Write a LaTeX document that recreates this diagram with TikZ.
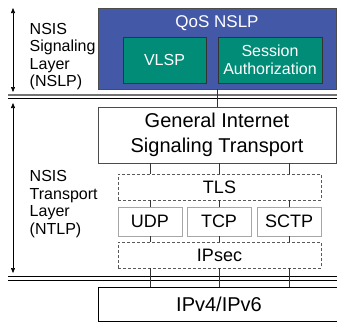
\documentclass[tikz,border=0pt]{standalone}
\usepackage{fontspec}
\setmainfont{Liberation Sans}
\usetikzlibrary{arrows.meta,shadows}
\definecolor{nslpblue}{RGB}{68,88,168}
\definecolor{nslpgreen}{RGB}{0,140,118}
\begin{document}
\begin{tikzpicture}[x=1pt,y=-1pt,line width=0.8pt]
\tikzstyle{box}=[draw, rectangle, inner sep=0pt, align=center]
\tikzstyle{shade}=[drop shadow={shadow xshift=1.2pt,shadow yshift=-1.2pt,fill=black!25,opacity=1}]
\tikzstyle{dbox}=[draw=black!65, dash pattern=on 3pt off 2pt, rectangle, inner sep=0pt, line width=0.7pt]
\tikzstyle{link}=[draw=black!80, line width=0.6pt]
\tikzstyle{span}=[{Triangle[width=4pt,length=5pt]}-{Triangle[width=4pt,length=5pt]}, line width=0.6pt]
\useasboundingbox (0,0) rectangle (337,322);

% layer labels
\node [align=left, anchor=west, font=\fontsize{16}{17.5}\selectfont] (nslplabel) at (26,56.5) {NSIS\\Signaling\\Layer\\(NSLP)};
\node [align=left, anchor=west, font=\fontsize{16}{17.5}\selectfont] (ntlplabel) at (26,204) {NSIS\\Transport\\Layer\\(NTLP)};
\coordinate (nslptop) at (13,8);
\coordinate (nslpbot) at (13,92);
\coordinate (ntlptop) at (13,103);
\coordinate (ntlpbot) at (13,273);
\draw [span] (nslptop) -- (nslpbot);
\draw [span] (ntlptop) -- (ntlpbot);

% signaling layer
\node [box, shade, draw=black!70, fill=nslpblue, minimum width=238pt, minimum height=81pt] (qos) at (217,48.5) {};
\node [text=white, font=\fontsize{17}{20}\selectfont] (qoslabel) at (217,23) {QoS NSLP};
\node [box, draw=black!80, fill=nslpgreen, text=white, minimum width=83pt, minimum height=46pt, font=\fontsize{16}{18}\selectfont] (vlsp) at (164.5,60) {VLSP};
\node [box, draw=black!80, fill=nslpgreen, text=white, minimum width=104pt, minimum height=46pt, font=\fontsize{16}{18}\selectfont] (auth) at (270,60) {Session\\Authorization};

% transport layer
\node [box, shade, draw=black!70, fill=white, minimum width=238pt, minimum height=56pt, font=\fontsize{20}{25}\selectfont] (gist) at (217,135) {General Internet\\Signaling Transport};
\node [dbox, minimum width=203pt, minimum height=26pt, font=\fontsize{18}{20}\selectfont] (tls) at (219.5,187) {TLS};
\node [box, shade, draw=black!35, fill=white, minimum width=64pt, minimum height=29pt, font=\fontsize{18}{20}\selectfont] (udp) at (150,221.5) {UDP};
\node [box, shade, draw=black!35, fill=white, minimum width=64pt, minimum height=29pt, font=\fontsize{18}{20}\selectfont] (tcp) at (219,221.5) {TCP};
\node [box, shade, draw=black!35, fill=white, minimum width=64pt, minimum height=29pt, font=\fontsize{18}{20}\selectfont] (sctp) at (289,221.5) {SCTP};
\node [dbox, minimum width=203pt, minimum height=26pt, font=\fontsize{18}{20}\selectfont] (ipsec) at (219.5,255) {IPsec};
\node [box, draw=black, fill=white, minimum width=242pt, minimum height=34pt, font=\fontsize{20}{24}\selectfont] (ip) at (219,304) {IPv4/IPv6};

% layer borders
\draw [black!55, line width=1.2pt] (8,95) -- (337,95);
\draw [black, line width=0.7pt] (8,98.5) -- (337,98.5);
\draw [black, line width=0.7pt] (8,276.5) -- (337,276.5);
\draw [black, line width=0.7pt] (8,280) -- (337,280);

\draw [link] (qos.south) -- (gist.north);
\foreach \t in {udp,tcp,sctp}
{
  \draw [link] (\t |- gist.south) -- (\t |- tls.north);
  \draw [link] (\t |- tls.south) -- (\t.north);
  \draw [link] (\t.south) -- (\t |- ipsec.north);
  \draw [link] (\t |- ipsec.south) -- (\t |- ip.north);
}
\end{tikzpicture}
\end{document}
